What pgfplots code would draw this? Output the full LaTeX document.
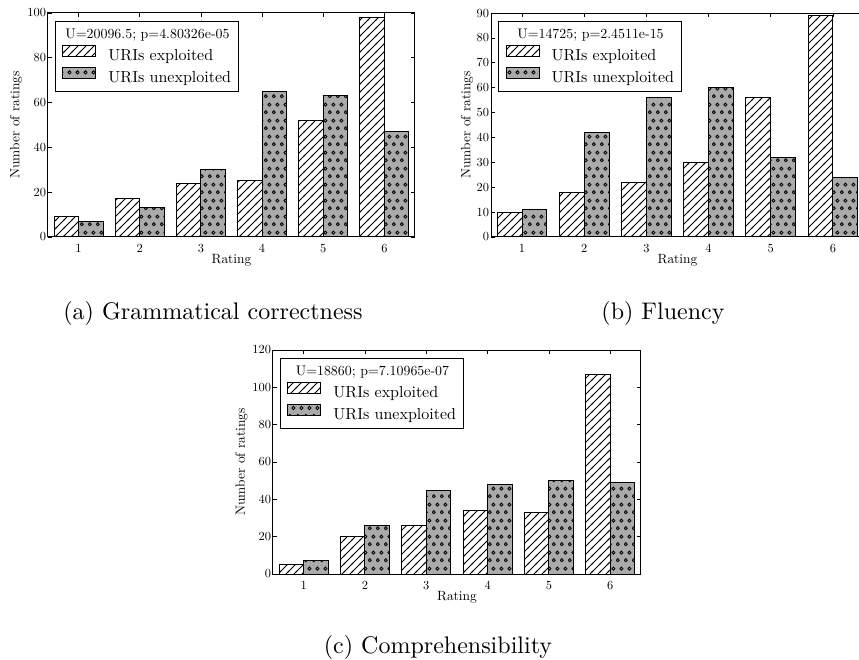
\documentclass[border=0pt]{standalone}
\usepackage{fontspec}
\setmainfont{lmroman10-regular.otf}[BoldFont=lmroman10-bold.otf, ItalicFont=lmroman10-italic.otf]
\usepackage{pgfplots}
\pgfplotsset{compat=1.18}
\usetikzlibrary{patterns}

\pgfdeclarepatternformonly{hatchNE}{\pgfqpoint{-0.5pt}{-0.5pt}}{\pgfqpoint{4.5pt}{4.5pt}}{\pgfqpoint{4pt}{4pt}}{%
  \pgfsetlinewidth{0.45pt}%
  \pgfpathmoveto{\pgfqpoint{-0.5pt}{-0.5pt}}%
  \pgfpathlineto{\pgfqpoint{4.5pt}{4.5pt}}%
  \pgfusepath{stroke}}
\pgfdeclarepatternformonly{smallcircles}{\pgfqpoint{0pt}{0pt}}{\pgfqpoint{4pt}{8pt}}{\pgfqpoint{4pt}{8pt}}{%
  \pgfsetlinewidth{0.45pt}%
  \pgfpathcircle{\pgfqpoint{1pt}{2pt}}{0.85pt}%
  \pgfpathcircle{\pgfqpoint{3pt}{6pt}}{0.85pt}%
  \pgfusepath{stroke}}

\definecolor{barGray}{RGB}{170,170,170}

\pgfplotsset{
  myaxis/.style={
    scale only axis, height=112pt,
    xmin=0.5, xmax=6.5, ymin=0,
    xtick={1,2,3,4,5,6},
    tick align=inside, major tick length=2pt,
    every tick/.style={black, line width=0.4pt},
    axis line style={line width=0.5pt},
    tick label style={font=\fontsize{6.2}{7}\selectfont},
    /pgf/number format/assume math mode=true,
    yticklabel style={inner xsep=0.8pt},
    label style={font=\fontsize{6.7}{8}\selectfont},
    xlabel={Rating}, ylabel={Number of ratings},
    x label style={at={([yshift=-11.85pt]axis description cs:0.5,0)}, anchor=center},
    legend cell align=left,
    legend style={at={([xshift=3.5pt,yshift=-4pt]axis description cs:0,1)}, anchor=north west,
      draw=black, line width=0.5pt, font=\fontsize{8}{9.6}\selectfont,
      inner xsep=3.5pt, inner ysep=2.5pt, row sep=1.25pt, column sep=6pt,
      nodes={inner sep=0pt, text height=6pt, text depth=2pt}},
  },
  expl/.style={ybar, bar width=0.4, bar shift=-0.2, draw=black, line width=0.5pt,
    fill=white, postaction={pattern=hatchNE},
    legend image code/.code={\draw[##1] (0pt,0pt) rectangle (16.5pt,5.5pt);}},
  unexpl/.style={ybar, bar width=0.4, bar shift=0.2, draw=black, line width=0.5pt,
    fill=barGray, postaction={pattern=smallcircles},
    legend image code/.code={\draw[##1] (0pt,0pt) rectangle (16.5pt,5.5pt);}},
}

\newcommand{\legtitle}[1]{\hspace*{19.5pt}\makebox[0pt][c]{\fontsize{6.95}{8}\selectfont #1}}

\begin{document}
\begin{tikzpicture}
\useasboundingbox (0,0) rectangle (429.5pt,330pt);

% (a) Grammatical correctness
\begin{axis}[myaxis, width=183.5pt, ymax=100, ytick={0,20,40,60,80,100},
  ylabel style={at={([xshift=-16pt]axis description cs:0,0.5)}, anchor=center},
  at={(24pt,211.5pt)}, anchor=south west]
\addlegendimage{empty legend}
\addlegendentry{\legtitle{U=20096.5; p=4.80326e-05}}
\addplot[expl] coordinates {(1,9) (2,17) (3,24) (4,25) (5,52) (6,98)};
\addlegendentry{URIs exploited}
\addplot[unexpl] coordinates {(1,7) (2,13) (3,30) (4,65) (5,63) (6,47)};
\addlegendentry{URIs unexploited}
\end{axis}

% (b) Fluency
\begin{axis}[myaxis, width=186.5pt, ymax=90, ytick={0,10,20,30,40,50,60,70,80,90},
  ylabel style={at={([xshift=-12pt]axis description cs:0,0.5)}, anchor=center},
  at={(245.5pt,211.5pt)}, anchor=south west]
\addlegendimage{empty legend}
\addlegendentry{\legtitle{U=14725; p=2.4511e-15}}
\addplot[expl] coordinates {(1,10) (2,18) (3,22) (4,30) (5,56) (6,89)};
\addlegendentry{URIs exploited}
\addplot[unexpl] coordinates {(1,11) (2,42) (3,56) (4,60) (5,32) (6,24)};
\addlegendentry{URIs unexploited}
\end{axis}

% (c) Comprehensibility
\begin{axis}[myaxis, width=184pt, ymax=120, ytick={0,20,40,60,80,100,120},
  ylabel style={at={([xshift=-15.75pt]axis description cs:0,0.5)}, anchor=center},
  at={(136.5pt,43pt)}, anchor=south west]
\addlegendimage{empty legend}
\addlegendentry{\legtitle{U=18860; p=7.10965e-07}}
\addplot[expl] coordinates {(1,5) (2,20) (3,26) (4,34) (5,33) (6,107)};
\addlegendentry{URIs exploited}
\addplot[unexpl] coordinates {(1,7) (2,26) (3,45) (4,48) (5,50) (6,49)};
\addlegendentry{URIs unexploited}
\end{axis}

\node[anchor=base] at (106.5pt,170pt) {\fontsize{12}{14}\selectfont (a) Grammatical correctness};
\node[anchor=base] at (331.5pt,170pt) {\fontsize{12}{14}\selectfont (b) Fluency};
\node[anchor=base] at (219pt,3pt) {\fontsize{12}{14}\selectfont (c) Comprehensibility};
\end{tikzpicture}
\end{document}
